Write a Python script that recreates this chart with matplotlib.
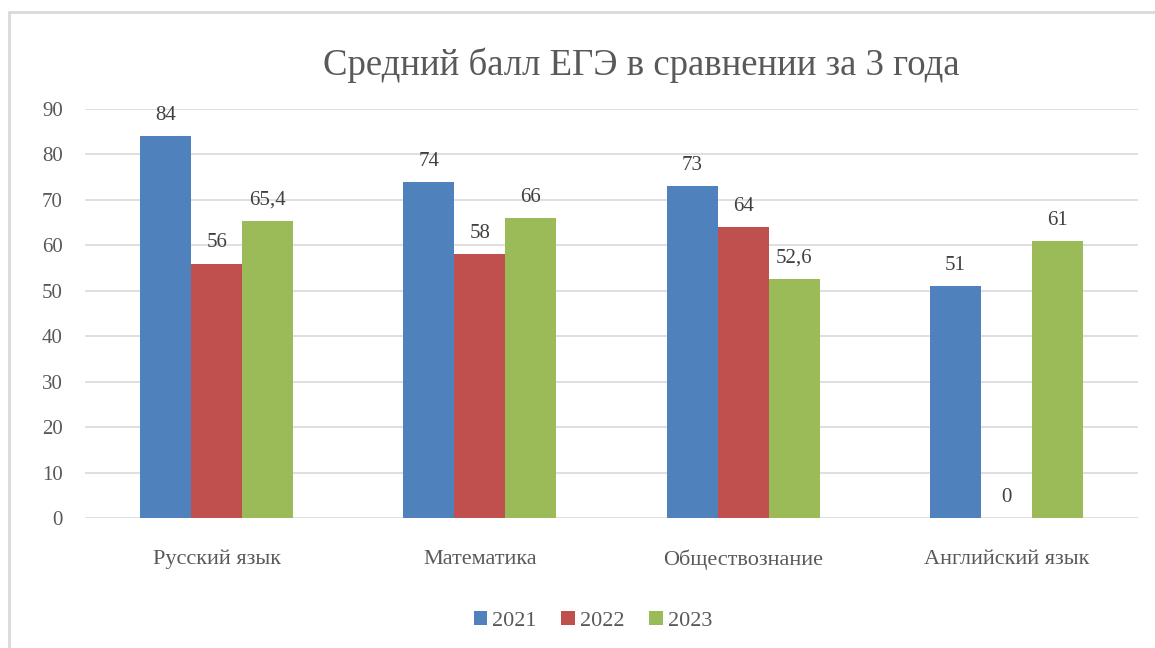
import matplotlib

matplotlib.use("Agg")

import matplotlib.pyplot as plt  # noqa: E402
import numpy as np  # noqa: E402
from matplotlib.patches import Rectangle  # noqa: E402

# Average USE score per subject, three years
subjects = ["Русский язык", "Математика", "Обществознание", "Английский язык"]
years = ["2021", "2022", "2023"]
scores_2021 = [84, 74, 73, 51]
scores_2022 = [56, 58, 64, 0]
scores_2023 = [65.4, 66, 52.6, 61]
yticks = [0, 10, 20, 30, 40, 50, 60, 70, 80, 90]

COLORS = ["#4F81BD", "#C0504D", "#9BBB59"]
TEXT = "#595959"

plt.rcParams["font.family"] = ["Liberation Serif", "DejaVu Serif"]

W, H = 1155, 648
fig = plt.figure(figsize=(W / 100, H / 100), dpi=100)

# outer chart frame (runs off the right and bottom edges)
fig.patches.append(Rectangle((9 / W, -0.1), 1.2, 1 - 12 / H + 0.1,
                             transform=fig.transFigure, fill=False,
                             edgecolor="#D9D9D9", linewidth=2))

ax = fig.add_axes([85 / W, 1 - 518 / H, (1138 - 85) / W, (518 - 109) / H])

x = np.arange(len(subjects))
width = 0.194
series = [scores_2021, scores_2022, scores_2023]
for i, (vals, year) in enumerate(zip(series, years)):
    pos = x + (i - 1) * width
    ax.bar(pos, vals, width, color=COLORS[i], label=year, zorder=3)
    for p, v in zip(pos, vals):
        label = f"{v:g}".replace(".", ",")
        ax.annotate(label, (p, v), xytext=(0, 8), textcoords="offset points",
                    ha="center", va="bottom", fontsize=15, color="#404040")

ax.set_xlim(-0.5, len(subjects) - 0.5)
ax.set_ylim(0, 90)
ax.set_yticks(yticks)
ax.grid(True, axis="y", color="#D9D9D9", linewidth=1.2, zorder=0)
ax.set_axisbelow(True)
for side in ["top", "right", "left", "bottom"]:
    ax.spines[side].set_visible(False)
ax.tick_params(axis="y", length=0, labelsize=15, labelcolor=TEXT, pad=16)
ax.tick_params(axis="x", length=0, labelsize=16, labelcolor=TEXT, pad=23)
ax.set_xticks(x)
ax.set_xticklabels(subjects)

fig.text(641 / W, 1 - 65 / H, "Средний балл ЕГЭ в сравнении за 3 года",
         ha="center", va="center", fontsize=26.5, color=TEXT)

fig.legend(loc="center", bbox_to_anchor=(593 / W, 1 - 621 / H), ncol=3,
           frameon=False, fontsize=16, handlelength=0.6, handleheight=0.6,
           handletextpad=0.25, columnspacing=1.1, labelcolor=TEXT)

fig.savefig("out.png", dpi=100)
